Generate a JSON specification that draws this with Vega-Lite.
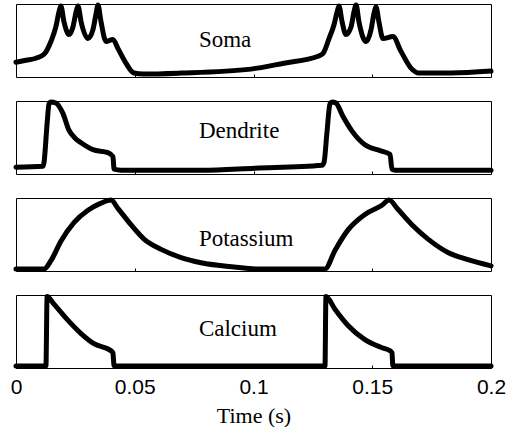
{
  "$schema": "https://vega.github.io/schema/vega-lite/v6.json",
  "background": "white",
  "padding": {"left": 9, "top": 2, "right": 0, "bottom": 0},
  "spacing": 24,
  "bounds": "flush",
  "config": {
    "view": {"stroke": "black", "strokeWidth": 1},
    "axis": {"grid": false, "domain": false, "tickColor": "black", "tickSize": -3, "tickWidth": 1},
    "line": {"color": "black", "strokeWidth": 5, "strokeJoin": "round", "strokeCap": "round", "interpolate": "monotone"},
    "text": {"font": "Liberation Serif", "fontSize": 23, "align": "left", "baseline": "alphabetic", "color": "black"}
  },
  "datasets": {
    "soma": [
      {"t": 0, "v": 0.203}, {"t": 0.0042, "v": 0.23}, {"t": 0.0084, "v": 0.257}, {"t": 0.0118, "v": 0.311},
      {"t": 0.0147, "v": 0.486}, {"t": 0.0168, "v": 0.689}, {"t": 0.0181, "v": 0.892}, {"t": 0.0189, "v": 0.973},
      {"t": 0.0202, "v": 0.757}, {"t": 0.0223, "v": 0.581}, {"t": 0.024, "v": 0.689}, {"t": 0.0253, "v": 0.892},
      {"t": 0.0261, "v": 0.973}, {"t": 0.0274, "v": 0.757}, {"t": 0.0303, "v": 0.527}, {"t": 0.0324, "v": 0.649},
      {"t": 0.0337, "v": 0.865}, {"t": 0.0345, "v": 0.986}, {"t": 0.0358, "v": 0.757}, {"t": 0.0379, "v": 0.486},
      {"t": 0.0408, "v": 0.514}, {"t": 0.0429, "v": 0.392}, {"t": 0.0463, "v": 0.189}, {"t": 0.0497, "v": 0.054},
      {"t": 0.0535, "v": 0.041}, {"t": 0.0695, "v": 0.054}, {"t": 0.0989, "v": 0.108}, {"t": 0.1128, "v": 0.189},
      {"t": 0.1272, "v": 0.284}, {"t": 0.1293, "v": 0.324}, {"t": 0.1318, "v": 0.527}, {"t": 0.1339, "v": 0.716},
      {"t": 0.1352, "v": 0.892}, {"t": 0.136, "v": 0.973}, {"t": 0.1373, "v": 0.757}, {"t": 0.1389, "v": 0.581},
      {"t": 0.1411, "v": 0.689}, {"t": 0.1423, "v": 0.892}, {"t": 0.1432, "v": 0.986}, {"t": 0.1444, "v": 0.757},
      {"t": 0.1474, "v": 0.486}, {"t": 0.1495, "v": 0.649}, {"t": 0.1507, "v": 0.865}, {"t": 0.1516, "v": 0.959},
      {"t": 0.1528, "v": 0.757}, {"t": 0.1545, "v": 0.527}, {"t": 0.1587, "v": 0.554}, {"t": 0.1621, "v": 0.351},
      {"t": 0.1663, "v": 0.122}, {"t": 0.1697, "v": 0.054}, {"t": 0.1832, "v": 0.054}, {"t": 0.2, "v": 0.081}
    ],
    "dend": [
      {"t": 0, "v": 0.093}, {"t": 0.0114, "v": 0.107}, {"t": 0.0118, "v": 0.16}, {"t": 0.0131, "v": 0.693},
      {"t": 0.0139, "v": 0.96}, {"t": 0.0147, "v": 0.987}, {"t": 0.0168, "v": 0.973}, {"t": 0.0198, "v": 0.827},
      {"t": 0.0223, "v": 0.6}, {"t": 0.0248, "v": 0.493}, {"t": 0.0274, "v": 0.427}, {"t": 0.0324, "v": 0.333},
      {"t": 0.0387, "v": 0.293}, {"t": 0.0408, "v": 0.24}, {"t": 0.0413, "v": 0.067}, {"t": 0.0442, "v": 0.053},
      {"t": 0.0779, "v": 0.053}, {"t": 0.1006, "v": 0.08}, {"t": 0.1288, "v": 0.12}, {"t": 0.1297, "v": 0.16},
      {"t": 0.1309, "v": 0.56}, {"t": 0.1322, "v": 0.96}, {"t": 0.1331, "v": 0.987}, {"t": 0.1347, "v": 0.973},
      {"t": 0.1377, "v": 0.787}, {"t": 0.1415, "v": 0.587}, {"t": 0.1469, "v": 0.4}, {"t": 0.1533, "v": 0.32},
      {"t": 0.1575, "v": 0.267}, {"t": 0.1583, "v": 0.067}, {"t": 0.1596, "v": 0.053}, {"t": 0.2, "v": 0.053}
    ],
    "pot": [
      {"t": 0, "v": 0.028}, {"t": 0.0118, "v": 0.028}, {"t": 0.0147, "v": 0.141}, {"t": 0.0189, "v": 0.408},
      {"t": 0.0244, "v": 0.662}, {"t": 0.0303, "v": 0.831}, {"t": 0.0358, "v": 0.93}, {"t": 0.04, "v": 0.972},
      {"t": 0.0429, "v": 0.859}, {"t": 0.0484, "v": 0.634}, {"t": 0.0539, "v": 0.437}, {"t": 0.0611, "v": 0.296},
      {"t": 0.0695, "v": 0.183}, {"t": 0.0779, "v": 0.113}, {"t": 0.0918, "v": 0.056}, {"t": 0.1032, "v": 0.028},
      {"t": 0.1301, "v": 0.028}, {"t": 0.1343, "v": 0.282}, {"t": 0.1398, "v": 0.563}, {"t": 0.1469, "v": 0.775},
      {"t": 0.1541, "v": 0.901}, {"t": 0.1571, "v": 0.972}, {"t": 0.1608, "v": 0.845}, {"t": 0.1667, "v": 0.634},
      {"t": 0.1735, "v": 0.437}, {"t": 0.1819, "v": 0.254}, {"t": 0.1903, "v": 0.155}, {"t": 0.2, "v": 0.07}
    ],
    "cal": [
      {"t": 0, "v": 0.028}, {"t": 0.0126, "v": 0.028}, {"t": 0.0131, "v": 0.98}, {"t": 0.016, "v": 0.875},
      {"t": 0.0219, "v": 0.653}, {"t": 0.0274, "v": 0.472}, {"t": 0.0328, "v": 0.333}, {"t": 0.04, "v": 0.236},
      {"t": 0.0408, "v": 0.208}, {"t": 0.0413, "v": 0.028}, {"t": 0.1301, "v": 0.028}, {"t": 0.1305, "v": 0.98},
      {"t": 0.1343, "v": 0.806}, {"t": 0.1398, "v": 0.583}, {"t": 0.1469, "v": 0.389}, {"t": 0.1541, "v": 0.278},
      {"t": 0.1575, "v": 0.236}, {"t": 0.1583, "v": 0.208}, {"t": 0.1587, "v": 0.028}, {"t": 0.2, "v": 0.028}
    ],
    "labels": [
      {"panel": "soma", "label": "Soma", "t": 0.077, "v": 0.405},
      {"panel": "dend", "label": "Dendrite", "t": 0.077, "v": 0.493},
      {"panel": "pot", "label": "Potassium", "t": 0.077, "v": 0.338},
      {"panel": "cal", "label": "Calcium", "t": 0.077, "v": 0.444}
    ]
  },
  "vconcat": [
    {
      "width": 475, "height": 73,
      "layer": [
        {"data": {"name": "soma"}, "mark": {"type": "line"},
         "encoding": {
           "x": {"field": "t", "type": "quantitative", "scale": {"domain": [0, 0.2], "nice": false},
                 "axis": {"labels": false, "title": null, "values": [0.05, 0.1, 0.15]}},
           "y": {"field": "v", "type": "quantitative", "scale": {"domain": [0, 1], "nice": false}, "axis": null}}},
        {"data": {"name": "labels"}, "transform": [{"filter": "datum.panel == 'soma'"}], "mark": {"type": "text"},
         "encoding": {"x": {"field": "t", "type": "quantitative"}, "y": {"field": "v", "type": "quantitative"}, "text": {"field": "label"}}}
      ]
    },
    {
      "width": 475, "height": 73,
      "layer": [
        {"data": {"name": "dend"}, "mark": {"type": "line"},
         "encoding": {
           "x": {"field": "t", "type": "quantitative", "scale": {"domain": [0, 0.2], "nice": false},
                 "axis": {"labels": false, "title": null, "values": [0.05, 0.1, 0.15]}},
           "y": {"field": "v", "type": "quantitative", "scale": {"domain": [0, 1], "nice": false}, "axis": null}}},
        {"data": {"name": "labels"}, "transform": [{"filter": "datum.panel == 'dend'"}], "mark": {"type": "text"},
         "encoding": {"x": {"field": "t", "type": "quantitative"}, "y": {"field": "v", "type": "quantitative"}, "text": {"field": "label"}}}
      ]
    },
    {
      "width": 475, "height": 73,
      "layer": [
        {"data": {"name": "pot"}, "mark": {"type": "line"},
         "encoding": {
           "x": {"field": "t", "type": "quantitative", "scale": {"domain": [0, 0.2], "nice": false},
                 "axis": {"labels": false, "title": null, "values": [0.05, 0.1, 0.15]}},
           "y": {"field": "v", "type": "quantitative", "scale": {"domain": [0, 1], "nice": false}, "axis": null}}},
        {"data": {"name": "labels"}, "transform": [{"filter": "datum.panel == 'pot'"}], "mark": {"type": "text"},
         "encoding": {"x": {"field": "t", "type": "quantitative"}, "y": {"field": "v", "type": "quantitative"}, "text": {"field": "label"}}}
      ]
    },
    {
      "width": 475, "height": 73,
      "layer": [
        {"data": {"name": "cal"}, "mark": {"type": "line"},
         "encoding": {
           "x": {"field": "t", "type": "quantitative", "scale": {"domain": [0, 0.2], "nice": false},
                 "axis": {"values": [0, 0.05, 0.1, 0.15, 0.2], "format": "~g", "labelFont": "Liberation Sans", "labelFontSize": 21,
                          "labelColor": "black", "labelPadding": 11, "labelFlush": false, "labelOverlap": false,
                          "title": "Time (s)", "titleFont": "Liberation Serif", "titleFontSize": 22,
                          "titleFontWeight": "normal", "titleColor": "black", "titlePadding": 8}},
           "y": {"field": "v", "type": "quantitative", "scale": {"domain": [0, 1], "nice": false}, "axis": null}}},
        {"data": {"name": "labels"}, "transform": [{"filter": "datum.panel == 'cal'"}], "mark": {"type": "text"},
         "encoding": {"x": {"field": "t", "type": "quantitative"}, "y": {"field": "v", "type": "quantitative"}, "text": {"field": "label"}}}
      ]
    }
  ]
}
